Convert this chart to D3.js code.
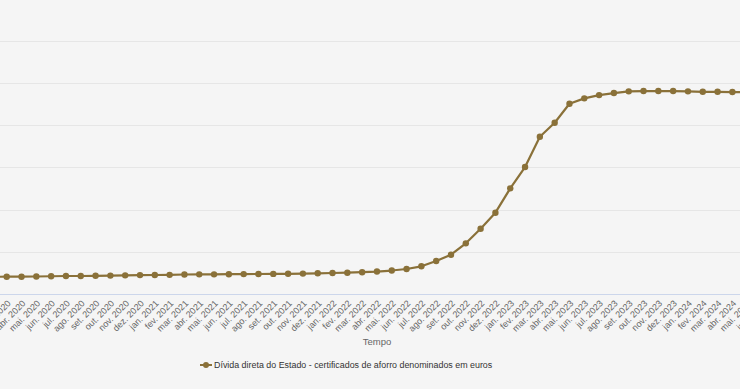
<!DOCTYPE html>
<html>
<head>
<meta charset="utf-8">
<script src="https://cdn.jsdelivr.net/npm/d3@7"></script>
<style>
  html, body { margin: 0; padding: 0; background: #f5f5f5; overflow: hidden; }
  svg { display: block; font-family: "Liberation Sans", Arial, sans-serif; }
</style>
</head>
<body>
<svg id="chart" width="740" height="389"></svg>
<script>
// Months (Portuguese abbreviations) shown on the category axis
const categories = [
  "fev. 2020","mar. 2020","abr. 2020","mai. 2020","jun. 2020","jul. 2020","ago. 2020","set. 2020","out. 2020","nov. 2020","dez. 2020",
  "jan. 2021","fev. 2021","mar. 2021","abr. 2021","mai. 2021","jun. 2021","jul. 2021","ago. 2021","set. 2021","out. 2021","nov. 2021","dez. 2021",
  "jan. 2022","fev. 2022","mar. 2022","abr. 2022","mai. 2022","jun. 2022","jul. 2022","ago. 2022","set. 2022","out. 2022","nov. 2022","dez. 2022",
  "jan. 2023","fev. 2023","mar. 2023","abr. 2023","mai. 2023","jun. 2023","jul. 2023","ago. 2023","set. 2023","out. 2023","nov. 2023","dez. 2023",
  "jan. 2024","fev. 2024","mar. 2024","abr. 2024","mai. 2024","jun. 2024"
];
// Dívida direta do Estado - certificados de aforro (milhões de euros)
const values = [
  12040, 12050, 12050, 12070, 12100, 12130, 12130, 12155, 12180, 12210, 12240,
  12250, 12270, 12310, 12330, 12330, 12345, 12355, 12370, 12380, 12390, 12415, 12450,
  12490, 12520, 12580, 12660, 12780, 12960, 13280, 13910, 14650, 16000, 17730, 19630,
  22510, 25040, 28620, 30280, 32530, 33170, 33560, 33800, 34000, 34035, 34035, 34035,
  34000, 33950, 33950, 33920, 33900, 33880
];
const yTicks = [15000, 20000, 25000, 30000, 35000, 40000];
const seriesName = "Dívida direta do Estado - certificados de aforro denominados em euros";
const axisTitle = "Tempo";

const color = "#8a7139";
const svg = d3.select("#chart");

const x = d3.scalePoint().domain(categories).range([-8.1, 762.0]);
const y = d3.scaleLinear().domain([10000, 40000]).range([294, 40.7]);

// grid lines
svg.append("g").selectAll("line").data(yTicks).join("line")
  .attr("x1", 0).attr("x2", 740)
  .attr("y1", d => Math.round(y(d)) + 0.5).attr("y2", d => Math.round(y(d)) + 0.5)
  .attr("stroke", "#e6e6e6").attr("stroke-width", 1);

// x axis
const xAxis = svg.append("g").attr("transform", "translate(0,294)")
  .call(d3.axisBottom(x).tickSize(0).tickPadding(0));
xAxis.select(".domain").attr("stroke", "#ccd6eb").attr("d", "M0,0.5H740");
xAxis.selectAll(".tick text")
  .attr("fill", "#666666")
  .attr("font-size", "9px")
  .attr("text-anchor", "end")
  .attr("x", 0).attr("y", 0).attr("dy", 0)
  .attr("transform", "translate(4,10) rotate(-45)");

svg.append("text")
  .attr("x", 377).attr("y", 345)
  .attr("text-anchor", "middle")
  .attr("fill", "#666666").attr("font-size", "9.5px")
  .text(axisTitle);

// line
const line = d3.line().x((d, i) => x(categories[i])).y(d => y(d));
svg.append("path").datum(values)
  .attr("d", line).attr("fill", "none")
  .attr("stroke", color).attr("stroke-width", 2.2).attr("stroke-linejoin", "round");
svg.append("g").selectAll("circle").data(values).join("circle")
  .attr("cx", (d, i) => x(categories[i])).attr("cy", d => y(d))
  .attr("r", 3.2).attr("fill", color);

// legend
const lg = svg.append("g").attr("transform", "translate(200,365)");
lg.append("line").attr("x1", 0).attr("x2", 12).attr("y1", 0).attr("y2", 0)
  .attr("stroke", color).attr("stroke-width", 2);
lg.append("circle").attr("cx", 6).attr("cy", 0).attr("r", 3).attr("fill", color);
lg.append("text").attr("x", 14).attr("y", 3.3)
  .attr("fill", "#333333").attr("font-size", "8.9px")
  .text(seriesName);
</script>
</body>
</html>
